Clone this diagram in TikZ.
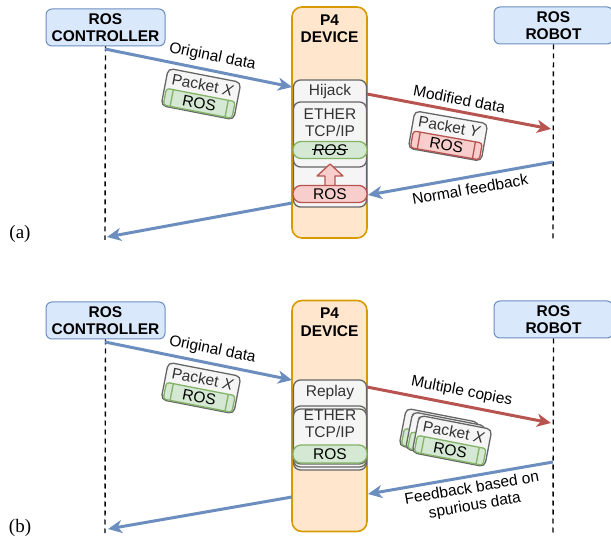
\documentclass[tikz,border=0pt]{standalone}
\usepackage{fontspec}
\setmainfont{Liberation Sans}
\newfontfamily\capfont{Liberation Serif}
\usetikzlibrary{arrows.meta}

\definecolor{boxblue}{HTML}{DAE8FC}
\definecolor{lineblue}{HTML}{6C8EBF}
\definecolor{boxorange}{HTML}{FFE6CC}
\definecolor{lineorange}{HTML}{D79B00}
\definecolor{boxgray}{HTML}{F5F5F5}
\definecolor{linegray}{HTML}{666666}
\definecolor{boxgreen}{HTML}{D5E8D4}
\definecolor{linegreen}{HTML}{82B366}
\definecolor{boxred}{HTML}{F8CECC}
\definecolor{linered}{HTML}{B85450}

\begin{document}
\begin{tikzpicture}[x=1pt, y=-1pt]
        \tikzset{txt/.style = {font=\fontsize{15.5}{17.5}\selectfont, inner sep=0pt, align=center, text=black}}
        \tikzset{host/.style = {txt, font=\fontsize{15.5}{17.5}\selectfont\bfseries, draw=lineblue, fill=boxblue, line width=1pt, rounded corners=6pt, minimum width=119pt, minimum height=37pt}}
        \tikzset{device/.style = {draw=lineorange, fill=boxorange, line width=1.6pt, rounded corners=10pt, minimum width=75pt, minimum height=231pt}}
        \tikzset{layer/.style = {draw=linegray, fill=boxgray, line width=1.3pt, rounded corners=7pt, minimum width=73pt}}
        \tikzset{rosgreen/.style = {txt, draw=linegreen, fill=boxgreen, line width=1.3pt, rounded corners=8pt, minimum width=74pt, minimum height=17pt}}
        \tikzset{rosred/.style = {rosgreen, draw=linered, fill=boxred}}
        \tikzset{life/.style = {line width=1.4pt, dash pattern=on 5pt off 4pt}}
        \tikzset{msg/.style = {line width=3pt, -{Stealth[length=14pt, width=13pt, inset=4pt]}}}
        \tikzset{pics/packet/.style 2 args = {code = {
            \node[layer, minimum width=74pt, minimum height=38pt, rounded corners=5pt] (-box) at (0,0) {};
            \node[txt, text=black!80] (-name) at (0,-9.5) {Packet \textit{#1}};
            \node[ros#2, minimum width=70pt, minimum height=17pt, rounded corners=3pt] (-ros) at (0,9.5) {ROS};
            \draw[draw=line#2, line width=1.3pt] (-28,1) -- (-28,18) (28,1) -- (28,18);
        }}}
        \useasboundingbox (0,0) rectangle (611,540);
        % part (a)
        \node[host] (ctla) at (105.5,27.5) {ROS\\CONTROLLER};
        \node[host] (robota) at (553.5,25.5) {ROS\\ROBOT};
        \node[device] (p4a) at (329.5,122.5) {};
        \node[txt, font=\fontsize{15.5}{17.5}\selectfont\bfseries] (p4atitle) at (329.5,28.5) {P4\\DEVICE};
        \node[layer, minimum height=127pt] (hijack) at (330,143.5) {};
        \node[txt, text=black!80] (hijacktext) at (330,91) {Hijack};
        \node[layer, minimum height=65pt] (ethera) at (330,134.5) {};
        \node[txt, text=black!80] (etheratext) at (330,122.5) {ETHER\\TCP/IP};
        \node[rosgreen] (rosold) at (330,150) {};
        \node[txt] (rosoldtext) at (330,150) {\textit{ROS}};
        \draw[line width=1pt] ([xshift=-1pt]rosoldtext.west) -- ([xshift=1pt]rosoldtext.east);
        \draw[draw=linered, fill=boxred, line width=1.3pt, line join=round] (325,188) -- (325,176) -- (317,176) -- (330,164) -- (343,176) -- (335,176) -- (335,188) -- cycle;
        \node[rosred] (rosnew) at (330,194) {ROS};
        \node[txt, font=\fontsize{19}{21}\selectfont\capfont] (capa) at (20,234) {(a)};
        % part (b)
        \node[host] (ctlb) at (105.5,320.5) {ROS\\CONTROLLER};
        \node[host] (robotb) at (553.5,319.5) {ROS\\ROBOT};
        \node[device] (p4b) at (329.5,416) {};
        \node[txt, font=\fontsize{15.5}{17.5}\selectfont\bfseries] (p4btitle) at (329.5,322) {P4\\DEVICE};
        \node[layer, minimum height=87pt] at (330,426.5) {};
        \node[layer, minimum height=87pt] (replay) at (330,423.5) {};
        \node[txt, text=black!80] (replaytext) at (330,392) {Replay};
        \node[layer, minimum height=55pt] at (330,433.5) {};
        \node[layer, minimum height=55pt] (etherb) at (330,436.5) {};
        \node[txt, text=black!80] (etherbtext) at (330,423.5) {ETHER\\TCP/IP};
        \node[rosgreen, minimum height=18pt] (rosb) at (330,454) {ROS};
        \node[txt, font=\fontsize{19}{21}\selectfont\capfont] (capb) at (20,528) {(b)};
        % packets
        \pic[rotate=-11, transform shape] (pxa) at (201,94) {packet={X}{green}};
        \pic[rotate=-10, transform shape] (pya) at (448,136) {packet={Y}{red}};
        \pic[rotate=-11, transform shape] (pxb) at (201,388) {packet={X}{green}};
        \foreach \dx/\dy [count=\k] in {-13/-7, -6.5/-3.5, 0/0}
            \pic[rotate=-11, transform shape] (pxc\k) at ({452+\dx},{441+\dy}) {packet={X}{green}};
        % lifelines
        \coordinate (ctla-end) at (105,240);
        \coordinate (robota-end) at (553,240);
        \coordinate (ctlb-end) at (105,533);
        \coordinate (robotb-end) at (553,533);
        \draw[life] (ctla.south) -- (ctla-end);
        \draw[life] (robota.south) -- (robota-end);
        \draw[life] (ctlb.south) -- (ctlb-end);
        \draw[life] (robotb.south) -- (robotb-end);
        % messages (a)
        \coordinate (a1) at (105,49);   \coordinate (a2) at (292,87);
        \coordinate (a3) at (367,94);   \coordinate (a4) at (551,129);
        \coordinate (a5) at (553,162);  \coordinate (a6) at (368,195);
        \coordinate (a7) at (292,203);  \coordinate (a8) at (107,237);
        \draw[msg, lineblue] (a1) -- node[txt, pos=0.56, above=5pt, sloped] {Original data} (a2);
        \draw[msg, linered] (a3) -- node[txt, pos=0.49, above=5pt, sloped] {Modified data} (a4);
        \draw[msg, lineblue] (a5) -- node[txt, pos=0.46, below=5pt, sloped] {Normal feedback} (a6);
        \draw[msg, lineblue] (a7) -- (a8);
        % messages (b)
        \coordinate (b1) at (105,342);  \coordinate (b2) at (292,380);
        \coordinate (b3) at (367,387);  \coordinate (b4) at (551,423);
        \coordinate (b5) at (553,462);  \coordinate (b6) at (368,494);
        \coordinate (b7) at (292,497);  \coordinate (b8) at (108,529);
        \draw[msg, lineblue] (b1) -- node[txt, pos=0.56, above=5pt, sloped] {Original data} (b2);
        \draw[msg, linered] (b3) -- node[txt, pos=0.5, above=5pt, sloped] {Multiple copies} (b4);
        \draw[msg, lineblue] (b5) -- node[txt, pos=0.45, below=4pt, sloped] {Feedback based on\\spurious data} (b6);
        \draw[msg, lineblue] (b7) -- (b8);
\end{tikzpicture}
\end{document}
